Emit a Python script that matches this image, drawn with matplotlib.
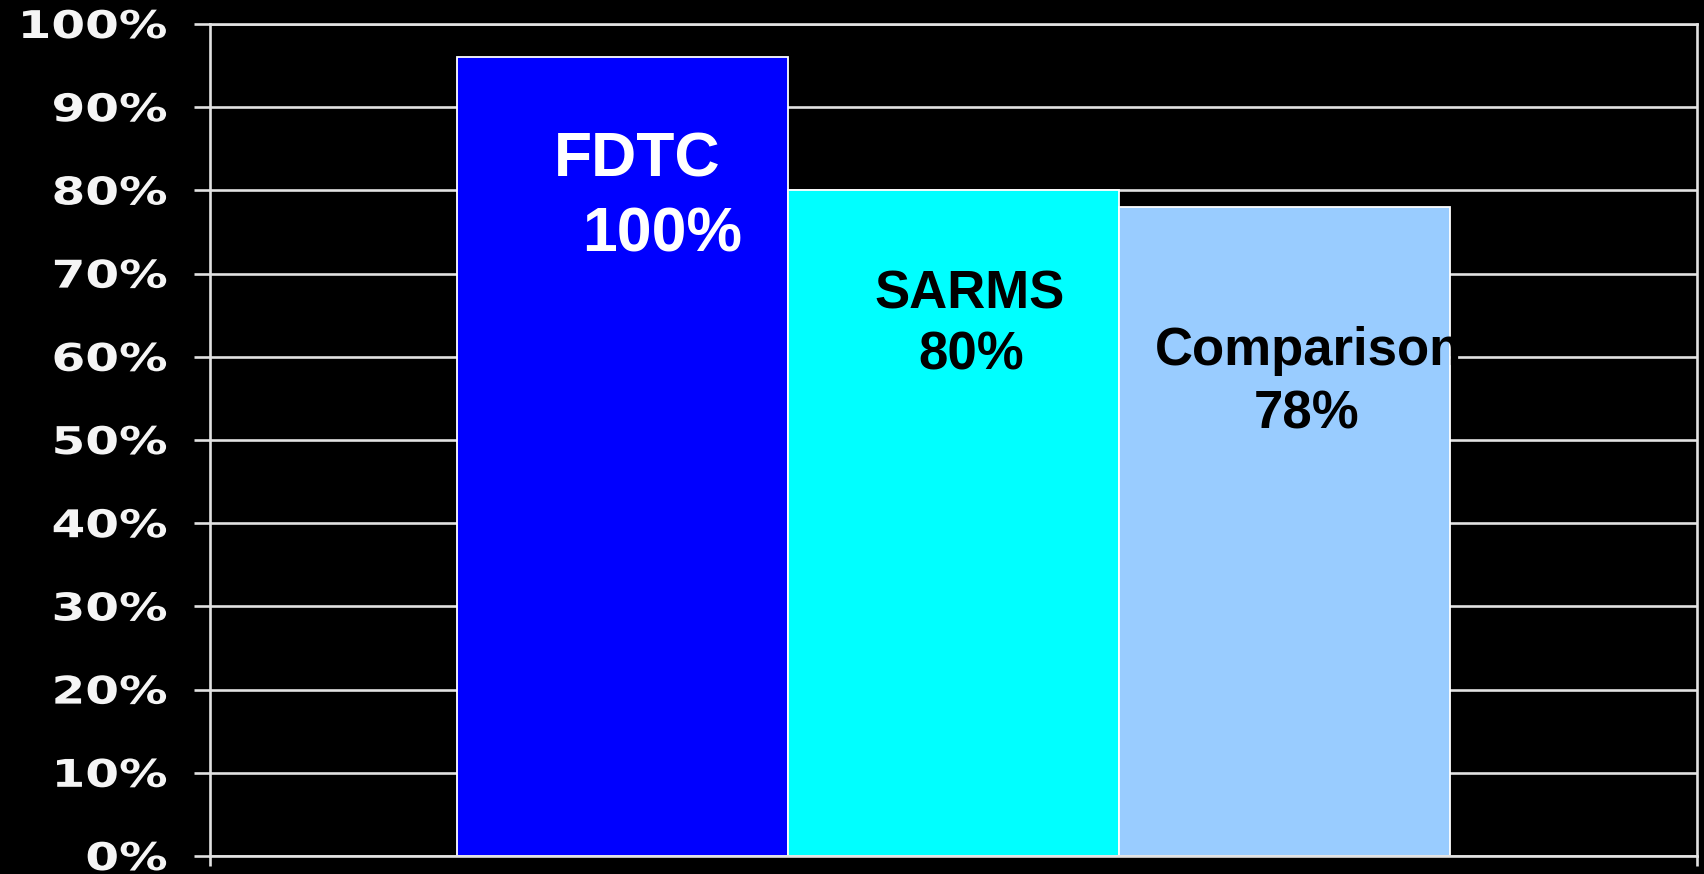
import matplotlib
matplotlib.use("Agg")
import matplotlib.pyplot as plt
from matplotlib.patheffects import AbstractPathEffect
from matplotlib.transforms import Affine2D
from matplotlib.ticker import FuncFormatter

# Data
groups = ["FDTC", "SARMS", "Comparison"]
values = [96, 80, 78]
value_labels = ["100%", "80%", "78%"]
bar_colors = ["#0000ff", "#00ffff", "#99ccff"]
label_colors = ["white", "black", "black"]
y_ticks = list(range(0, 101, 10))


class HStretch(AbstractPathEffect):
    """Stretch a text path horizontally around its right edge."""
    def __init__(self, sx):
        super().__init__()
        self.sx = sx

    def draw_path(self, renderer, gc, tpath, affine, rgbFace=None):
        x1 = tpath.get_extents(affine).x1
        aff = affine + Affine2D().translate(-x1, 0).scale(self.sx, 1).translate(x1, 0)
        renderer.draw_path(gc, tpath, aff, rgbFace)


fig = plt.figure(figsize=(17.04, 8.74), dpi=100, facecolor="black")
ax = fig.add_axes([210 / 1704, 18 / 874, 1487 / 1704, 832 / 874])
ax.set_facecolor("black")

x = list(range(len(groups)))
ax.bar(x, values, width=1.0, color=bar_colors, edgecolor="white", linewidth=1.3, zorder=2)

ax.set_ylim(0, 100)
ax.set_xlim(1 - 2.246, 1 + 2.246)
ax.set_yticks(y_ticks)
ax.yaxis.set_major_formatter(FuncFormatter(lambda v, p: f"{int(v)}%"))
ax.set_xticks([1 - 2.246, 1 + 2.246])
ax.set_xticklabels(["", ""])

ax.grid(axis="y", color="#e2e2e2", linewidth=1.9, zorder=0)
ax.set_axisbelow(True)
for s in ax.spines.values():
    s.set_color("#e2e2e2")
    s.set_linewidth(1.9)

ax.tick_params(axis="y", direction="out", length=11.5, width=1.9, color="#e2e2e2",
               pad=19, labelcolor="#f5f5f5")
ax.tick_params(axis="x", direction="out", length=7, width=1.9, color="#e2e2e2")
for lab in ax.get_yticklabels():
    lab.set_fontfamily("DejaVu Sans")
    lab.set_fontweight("bold")
    lab.set_fontsize(27.5)
    lab.set_path_effects([HStretch(1.27)])

# In-bar labels (name and value), positioned by bar index
name_offsets = [(0.045, 83.7), (1.05, 67.5), (2.074, 60.7)]
value_offsets = [(0.121, 74.6), (1.053, 60.1), (2.066, 53.1)]
sizes = [45, 38, 38]
for i in range(len(groups)):
    ax.text(*name_offsets[i], groups[i], ha="center", va="center", color=label_colors[i],
            fontsize=sizes[i], fontweight="bold", family="Liberation Sans", zorder=3)
    ax.text(*value_offsets[i], value_labels[i], ha="center", va="center", color=label_colors[i],
            fontsize=sizes[i], fontweight="bold", family="Liberation Sans", zorder=3)

fig.savefig("out.png", dpi=100, facecolor="black")
